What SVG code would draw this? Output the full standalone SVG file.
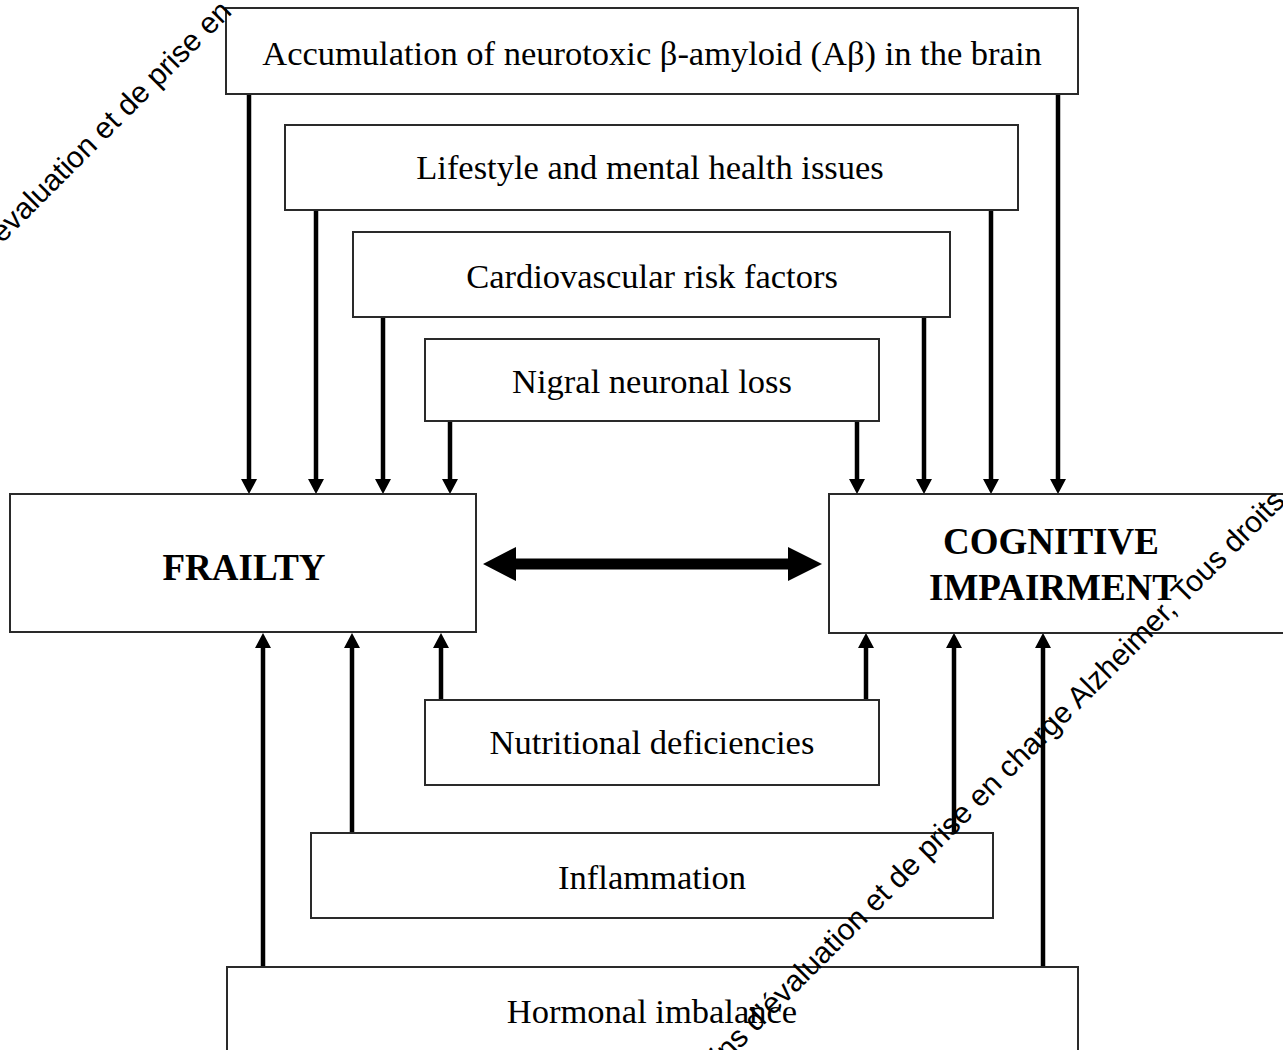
<svg xmlns="http://www.w3.org/2000/svg" width="1283" height="1050" viewBox="0 0 1283 1050">
<defs>
<style>
.box{fill:#fff;stroke:#2a2a2a;stroke-width:2}
.lbl{font-family:"Liberation Serif","Times New Roman",serif;font-size:34.5px;fill:#000;text-anchor:middle}
.big{font-family:"Liberation Serif","Times New Roman",serif;font-size:37px;font-weight:bold;fill:#000;text-anchor:middle}
.wm{font-family:"Liberation Sans",Arial,sans-serif;font-size:30px;fill:#000}
.arr{stroke:#000;stroke-width:4.5;fill:none;marker-end:url(#ah)}
</style>
<marker id="ah" viewBox="0 0 15 16" refX="5" refY="8" markerWidth="15" markerHeight="16" markerUnits="userSpaceOnUse" orient="auto">
<path d="M0,0 L15,8 L0,16 Z" fill="#000"/>
</marker>
</defs>
<rect width="1283" height="1050" fill="#fff"/>

<g id="connectors">
<line class="arr" x1="249" y1="95" x2="249" y2="484"/>
<line class="arr" x1="1058" y1="95" x2="1058" y2="484"/>
<line class="arr" x1="316" y1="211" x2="316" y2="484"/>
<line class="arr" x1="991" y1="211" x2="991" y2="484"/>
<line class="arr" x1="383" y1="318" x2="383" y2="484"/>
<line class="arr" x1="924" y1="318" x2="924" y2="484"/>
<line class="arr" x1="450" y1="422" x2="450" y2="484"/>
<line class="arr" x1="857" y1="422" x2="857" y2="484"/>
<line class="arr" x1="441" y1="699" x2="441" y2="643"/>
<line class="arr" x1="866" y1="699" x2="866" y2="643"/>
<line class="arr" x1="352" y1="832" x2="352" y2="643"/>
<line class="arr" x1="954" y1="832" x2="954" y2="643"/>
<line class="arr" x1="263" y1="966" x2="263" y2="643"/>
<line class="arr" x1="1043" y1="966" x2="1043" y2="643"/>
<polygon points="483,564 516,547 516,558.5 788,558.5 788,547 822,564 788,581 788,569.5 516,569.5 516,581" fill="#000"/>
</g>

<g id="n-amyloid">
<rect class="box" x="226" y="8" width="852" height="86"/>
<text class="lbl" x="652" y="65">Accumulation of neurotoxic β-amyloid (Aβ) in the brain</text>
</g>
<g id="n-lifestyle">
<rect class="box" x="285" y="125" width="733" height="85"/>
<text class="lbl" x="650" y="179">Lifestyle and mental health issues</text>
</g>
<g id="n-cardio">
<rect class="box" x="353" y="232" width="597" height="85"/>
<text class="lbl" x="652" y="288">Cardiovascular risk factors</text>
</g>
<g id="n-nigral">
<rect class="box" x="425" y="339" width="454" height="82"/>
<text class="lbl" x="652" y="393">Nigral neuronal loss</text>
</g>
<g id="n-frailty">
<rect class="box" x="10" y="494" width="466" height="138"/>
<text class="big" x="244" y="580">FRAILTY</text>
</g>
<g id="n-cognitive">
<rect class="box" x="829" y="494" width="462" height="139"/>
<text class="big" x="1051" y="554">COGNITIVE</text>
<text class="big" x="1053" y="600">IMPAIRMENT</text>
</g>
<g id="n-nutrition">
<rect class="box" x="425" y="700" width="454" height="85"/>
<text class="lbl" x="652" y="754">Nutritional deficiencies</text>
</g>
<g id="n-inflammation">
<rect class="box" x="311" y="833" width="682" height="85"/>
<text class="lbl" x="652" y="889">Inflammation</text>
</g>
<g id="n-hormonal">
<rect class="box" x="227" y="967" width="851" height="100"/>
<text class="lbl" x="652" y="1023">Hormonal imbalance</text>
</g>

<text class="wm" transform="translate(2,244) rotate(-45)">évaluation et de prise en</text>
<text class="wm" transform="translate(723,1066) rotate(-45)">ins d’évaluation et de prise en charge Alzheimer, Tous droits</text>
</svg>
